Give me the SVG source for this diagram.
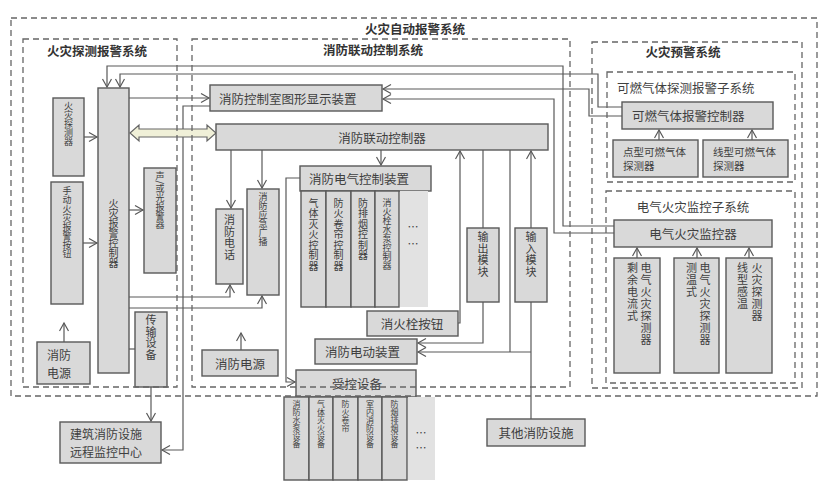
<svg xmlns="http://www.w3.org/2000/svg" width="824" height="484" viewBox="0 0 824 484">
<defs>
<style>
.b{fill:#d9d9d9;stroke:#595959;stroke-width:1.4}
.lt{fill:#e2e2e2;stroke:none}
.fr{fill:none;stroke:#666;stroke-width:1.3;stroke-dasharray:6 4}
.c{fill:none;stroke:#595959;stroke-width:1.2}
.t{font-family:"Noto Sans CJK SC","Liberation Sans",sans-serif;fill:#404040;font-size:12.5px;dominant-baseline:central}
.m{text-anchor:middle}
.h{font-weight:bold;font-size:12.5px;fill:#333}
.vt{font-family:"Noto Sans CJK SC","Liberation Sans",sans-serif;fill:#404040;writing-mode:vertical-rl;text-anchor:start}
.f11{font-size:11px;letter-spacing:0.5px}
.f10{font-size:10px;letter-spacing:0.5px}
.f10n{font-size:10px}
.f9{font-size:9px}
.f8{font-size:8px}
.f12{font-size:11px;letter-spacing:1px}
.s{font-size:10.5px}
.el{font-size:11px}
.two{font-size:12px}
</style>
<marker id="a" markerUnits="userSpaceOnUse" markerWidth="12" markerHeight="12" refX="9" refY="5" orient="auto">
<path d="M1,0.5 L9,5 L1,9.5" fill="none" stroke="#595959" stroke-width="1.2"/>
</marker>
</defs>
<rect width="824" height="484" fill="#fff"/>

<g id="connectors">
<path class="c" d="M84,137 H97" marker-end="url(#a)"/>
<path class="c" d="M83,243 H97" marker-end="url(#a)"/>
<path class="c" d="M129,210 H143" marker-end="url(#a)"/>
<path class="c" d="M129,98 H209" marker-end="url(#a)"/>
<path class="c" d="M210,106 H183 V450 H162" marker-end="url(#a)"/>
<path class="c" d="M129,349 H135"/>
<path class="c" d="M151,387 V421" marker-end="url(#a)"/>
<path class="c" d="M64,342 V323" marker-end="url(#a)"/>
<path class="c" d="M614,226 H563 V66 H107 V87" marker-end="url(#a)"/>
<path class="c" d="M622,107 H598 V74 H120 V87" marker-end="url(#a)"/>
<path class="c" d="M622,116 H589 V89 H383" marker-end="url(#a)"/>
<path class="c" d="M614,233 H554 V99 H383" marker-end="url(#a)"/>
<path class="c" d="M231,150 V208" marker-end="url(#a)"/>
<path class="c" d="M262,150 V188" marker-end="url(#a)"/>
<path class="c" d="M381,150 V165" marker-end="url(#a)"/>
<path class="c" d="M129,297 H230 V285" marker-end="url(#a)"/>
<path class="c" d="M129,308 H262 V296" marker-end="url(#a)"/>
<path class="c" d="M300,178 H286 V382 H295" marker-end="url(#a)"/>
<path class="c" d="M458,323 H460 V151" marker-end="url(#a)"/>
<path class="c" d="M483,150 V228"/>
<path class="c" d="M483,302 V343 H418" marker-end="url(#a)"/>
<path class="c" d="M510,150 V352"/>
<path class="c" d="M531,228 V151" marker-end="url(#a)"/>
<path class="c" d="M531,302 V419"/>
<path class="c" d="M531,352 H418" marker-end="url(#a)"/>
<path class="c" d="M241,350 V333" marker-end="url(#a)"/>
<path class="c" d="M659,140 V130" marker-end="url(#a)"/>
<path class="c" d="M752,140 V130" marker-end="url(#a)"/>
<path class="c" d="M637,258 V248" marker-end="url(#a)"/>
<path class="c" d="M697,258 V248" marker-end="url(#a)"/>
<path class="c" d="M749,258 V248" marker-end="url(#a)"/>
<polygon points="130,133 139,125 139,129 207,129 207,125 216,133 207,141 207,137 139,137 139,141" fill="#f0f0d8" stroke="#666" stroke-width="1.2"/>
</g>

<g id="n-controller"><rect class="b" x="98" y="88" width="31" height="285"/><text class="vt f10n" x="113.5" y="198">火灾报警控制器</text></g>
<g id="n-detector"><rect class="b" x="53" y="98" width="31" height="78"/><text class="vt f9" x="68.5" y="101.5">火灾探测器</text></g>
<g id="n-manual"><rect class="b" x="51" y="182" width="32" height="122"/><text class="vt f9" x="67" y="186.5">手动火灾报警按钮</text></g>
<g id="n-sound"><rect class="b" x="144" y="168" width="32" height="105"/><text class="vt f9" x="160" y="171.5">声/或光报警器</text></g>
<g id="n-power1"><rect class="b" x="37" y="342" width="53" height="42"/>
<text class="t two" x="47" y="354.5">消防</text><text class="t two" x="47" y="372">电源</text></g>
<g id="n-trans"><rect class="b" x="135" y="312" width="32" height="75"/><text class="vt f11" x="151" y="314.5">传输设备</text></g>
<g id="n-remote"><rect class="b" x="60" y="422" width="101" height="41"/>
<text class="t two" x="70" y="433.5">建筑消防设施</text><text class="t two" x="70" y="451.5">远程监控中心</text></g>

<g id="n-graphic"><rect class="b" x="210" y="85" width="172" height="26"/><text class="t" x="219" y="98">消防控制室图形显示装置</text></g>
<g id="n-linkage"><rect class="b" x="216" y="124" width="332" height="26"/><text class="t m" x="382" y="137">消防联动控制器</text></g>
<g id="n-phone"><rect class="b" x="216" y="209" width="27" height="75"/><text class="vt f11" x="229.5" y="214.5">消防电话</text></g>
<g id="n-broadcast"><rect class="b" x="247" y="189" width="32" height="106"/><text class="vt f9" x="263" y="192.5">消防应急广播</text></g>
<g id="n-elec"><rect class="b" x="300" y="166" width="131" height="25"/><text class="t" x="309" y="178.5">消防电气控制装置</text>
<rect class="b" x="301" y="191" width="25" height="116"/><rect class="b" x="326" y="191" width="25" height="116"/><rect class="b" x="351" y="191" width="24" height="116"/><rect class="b" x="375" y="191" width="24" height="116"/><rect class="lt" x="400" y="191" width="28" height="116"/>
<text class="vt f10" x="313.5" y="198">气体灭火控制器</text>
<text class="vt f10" x="338.5" y="198">防火卷帘控制器</text>
<text class="vt f10" x="363" y="198">防排烟控制器</text>
<text class="vt f9" x="387" y="198.5">消火栓水泵控制器</text>
<text class="t m el" x="413" y="226">…</text><text class="t m el" x="413" y="243">…</text></g>
<g id="n-hydrant"><rect class="b" x="367" y="311" width="91" height="25"/><text class="t m" x="412" y="323.5">消火栓按钮</text></g>
<g id="n-output"><rect class="b" x="467" y="228" width="32" height="74"/><text class="vt f11" x="483" y="231.5">输出模块</text></g>
<g id="n-input"><rect class="b" x="515" y="228" width="32" height="74"/><text class="vt f11" x="531" y="231.5">输入模块</text></g>
<g id="n-motor"><rect class="b" x="315" y="339" width="102" height="25"/><text class="t" x="325" y="351.5">消防电动装置</text></g>
<g id="n-power2"><rect class="b" x="202" y="350" width="76" height="26"/><text class="t m" x="240" y="363">消防电源</text></g>
<g id="n-controlled"><rect class="b" x="296" y="370" width="120" height="27"/><text class="t m" x="357" y="383">受控设备</text>
<rect class="b" x="284" y="397" width="25" height="83"/><rect class="b" x="309" y="397" width="24" height="83"/><rect class="b" x="333" y="397" width="25" height="83"/><rect class="b" x="358" y="397" width="24" height="83"/><rect class="b" x="382" y="397" width="25" height="83"/><rect class="lt" x="408" y="397" width="27" height="83"/>
<text class="vt f8" x="296.5" y="400">消防水泵设备</text>
<text class="vt f8" x="321" y="400">气体灭火设备</text>
<text class="vt f8" x="345.5" y="400">防火卷帘</text>
<text class="vt f8" x="370" y="400">室内消防设备</text>
<text class="vt f8" x="394.5" y="400">防烟排烟设备</text>
<text class="t m el" x="421" y="432">…</text><text class="t m el" x="421" y="447">…</text></g>
<g id="n-other"><rect class="b" x="487" y="419" width="98" height="27"/><text class="t m" x="536" y="432.5">其他消防设施</text></g>

<g id="n-gasctrl"><rect class="b" x="622" y="102" width="151" height="27"/><text class="t" x="632" y="115.5">可燃气体报警控制器</text></g>
<g id="n-gaspoint"><rect class="b" x="613" y="140" width="85" height="37"/><text class="t s" x="623" y="151">点型可燃气体</text><text class="t s" x="623" y="165">探测器</text></g>
<g id="n-gasline"><rect class="b" x="703" y="140" width="85" height="37"/><text class="t s" x="713" y="151">线型可燃气体</text><text class="t s" x="713" y="165">探测器</text></g>
<g id="n-elecmon"><rect class="b" x="614" y="220" width="158" height="27"/><text class="t m" x="693" y="233.5">电气火灾监控器</text></g>
<g id="n-residual"><rect class="b" x="614" y="258" width="46" height="115"/>
<text class="vt f12" x="632.5" y="262">剩余电流式</text><text class="vt f12" x="646" y="262">电气火灾探测器</text></g>
<g id="n-temp"><rect class="b" x="674" y="258" width="45" height="115"/>
<text class="vt f12" x="691.5" y="262">测温式</text><text class="vt f12" x="705" y="262">电气火灾探测器</text></g>
<g id="n-linetemp"><rect class="b" x="726" y="258" width="46" height="115"/>
<text class="vt f12" x="742.5" y="262">线型感温</text><text class="vt f12" x="757" y="262">火灾探测器</text></g>

<g id="frames">
<rect class="fr" x="11" y="18" width="806" height="378"/>
<rect class="fr" x="23" y="39" width="154" height="348"/>
<rect class="fr" x="192" y="39" width="378" height="348"/>
<rect class="fr" x="592" y="42" width="210" height="346"/>
<rect class="fr" x="607" y="72" width="188" height="110"/>
<rect class="fr" x="606" y="191" width="189" height="192"/>
<text class="t m h" x="415" y="28">火灾自动报警系统</text>
<text class="t m h" x="97" y="50">火灾探测报警系统</text>
<text class="t m h" x="373" y="49">消防联动控制系统</text>
<text class="t m h" x="683" y="51">火灾预警系统</text>
<text class="t" x="617" y="87">可燃气体探测报警子系统</text>
<text class="t m" x="693" y="206">电气火灾监控子系统</text>
</g>
</svg>
